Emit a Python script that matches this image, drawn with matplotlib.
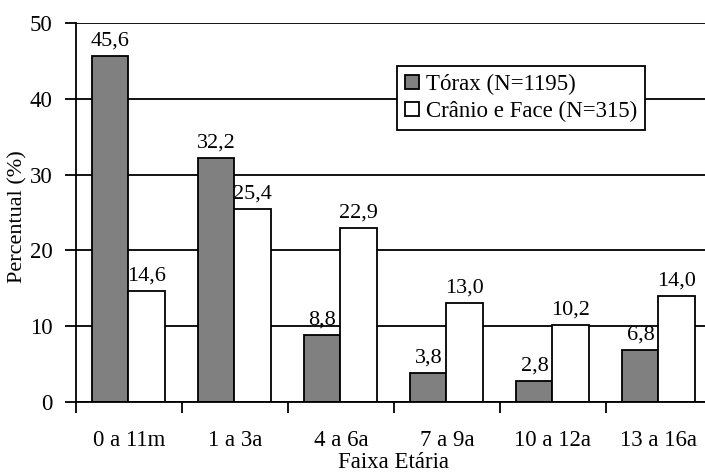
import numpy as np
import matplotlib.pyplot as plt

plt.rcParams["font.family"] = ["Liberation Serif", "DejaVu Serif"]

FAIXAS = ["0 a 11m", "1 a 3a", "4 a 6a", "7 a 9a", "10 a 12a", "13 a 16a"]
TORAX = [45.6, 32.2, 8.8, 3.8, 2.8, 6.8]
CRANIO = [14.6, 25.4, 22.9, 13.0, 10.2, 14.0]
SERIES = [
    ("Tórax (N=1195)", TORAX, "#808080"),
    ("Crânio e Face (N=315)", CRANIO, "white"),
]

FS = 16.5


def fmt(v: float) -> str:
    return f"{v:.1f}".replace(".", ",")


def main() -> None:
    fig = plt.figure(figsize=(7.05, 4.75), dpi=100)
    # axes run a little past the right edge, like the original export
    ax = fig.add_axes([76 / 705, 73 / 475, 636 / 705, 379 / 475])

    centers = np.arange(len(FAIXAS)) + 0.5
    width = 0.34
    for k, (label, vals, color) in enumerate(SERIES):
        xs = centers + (k - 0.5) * width - 0.005
        bars = ax.bar(xs, vals, width=width, color=color, edgecolor="black",
                      linewidth=1.3, label=label, zorder=2)
        for b, v in zip(bars, vals):
            ax.annotate(fmt(v), (b.get_x() + b.get_width() / 2, v),
                        xytext=(0, 4), textcoords="offset points",
                        ha="center", va="bottom", fontsize=FS - 0.5, zorder=3)

    ax.set_xlim(0, len(FAIXAS))
    ax.set_ylim(0, 50)
    ax.set_yticks(range(0, 51, 10))
    ax.yaxis.grid(True, color="black", linewidth=1.3, zorder=0)
    ax.set_axisbelow(True)

    ax.set_xticks(np.arange(len(FAIXAS) + 1))
    ax.set_xticklabels([])
    ax.set_xticks(centers, minor=True)
    ax.set_xticklabels(FAIXAS, minor=True, fontsize=FS)
    ax.tick_params(axis="x", which="major", length=8, width=1.3, direction="out")
    ax.tick_params(axis="x", which="minor", length=0, pad=20)
    ax.tick_params(axis="y", length=8, width=1.3, direction="out", pad=9,
                   labelsize=FS)

    for s in ("top", "right"):
        ax.spines[s].set_visible(False)
    for s in ("left", "bottom"):
        ax.spines[s].set_linewidth(1.3)

    ax.set_ylabel("Percentual (%)", fontsize=FS - 0.5)
    ax.yaxis.set_label_coords(-0.077, 0.49)
    fig.text(394 / 705, 1.5 / 475, "Faixa Etária", ha="center", va="bottom",
             fontsize=FS)

    leg = ax.legend(loc="upper left", bbox_to_anchor=((397 - 76) / 636, (402 - 66) / 379),
                    fontsize=FS, frameon=True, fancybox=False, edgecolor="black",
                    framealpha=1, handlelength=0.6, handleheight=0.6,
                    handletextpad=0.3, borderpad=0.35, labelspacing=0.25,
                    borderaxespad=0)
    leg.get_frame().set_linewidth(1.3)

    fig.savefig("out.png", dpi=100)


if __name__ == "__main__":
    main()
